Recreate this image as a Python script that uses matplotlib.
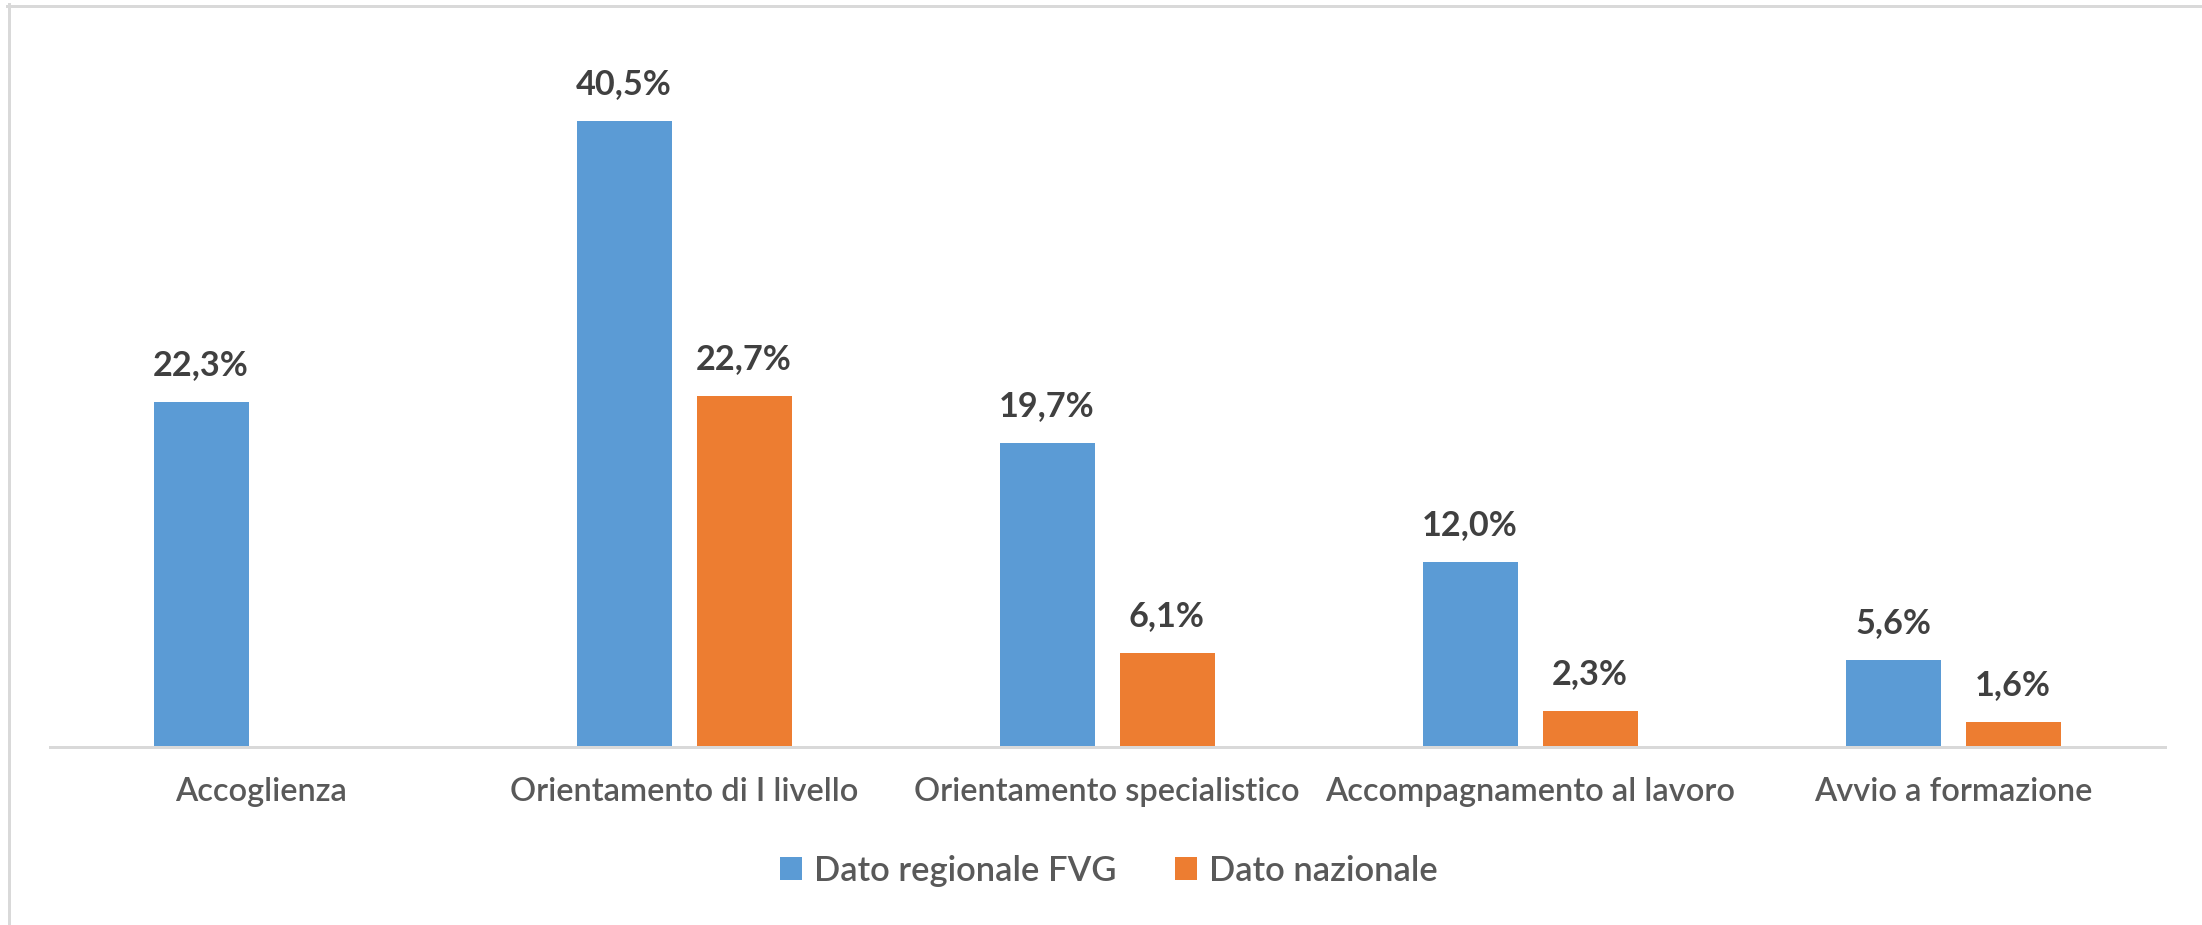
import matplotlib
matplotlib.use("Agg")
import matplotlib.pyplot as plt
from matplotlib.patches import Patch
from matplotlib.lines import Line2D
import numpy as np

categories = ["Accoglienza", "Orientamento di I livello", "Orientamento specialistico",
              "Accompagnamento al lavoro", "Avvio a formazione"]
series_names = ["Dato regionale FVG", "Dato nazionale"]
regional = [22.3, 40.5, 19.7, 12.0, 5.6]
national = [np.nan, 22.7, 6.1, 2.3, 1.6]

BLUE = "#5B9BD5"
ORANGE = "#ED7D31"
FONT = "Lato"
TXT_W = "semibold"

W, H = 2202, 925
fig = plt.figure(figsize=(W / 100, H / 100), dpi=100)
renderer = fig.canvas.get_renderer()


def fit_size(s, target_px, weight="normal"):
    t = fig.text(0, 0, s, fontsize=10, family=FONT, weight=weight)
    w = t.get_window_extent(renderer).width
    t.remove()
    return 10 * target_px / w


tick_fs = fit_size("Accompagnamento al lavoro", 410, TXT_W)
leg_fs = fit_size("Dato regionale FVG", 303, TXT_W)
lab_fs = fit_size("40,5%", 96, "bold")

left, right = 49.5, 2164.5
base = 747
ppu = 15.45
ymax = 45
ax = fig.add_axes([left / W, (H - base) / H, (right - left) / W, ymax * ppu / H])

x = np.arange(len(categories))
bw = 95 / 423
gap = 25 / 423
off = (bw + gap) / 2
b1 = ax.bar(x - off, regional, bw, color=BLUE, label=series_names[0])
b2 = ax.bar(x + off, national, bw, color=ORANGE, label=series_names[1])

for bars, vals in ((b1, regional), (b2, national)):
    for rect, v in zip(bars, vals):
        if np.isnan(v):
            continue
        ax.annotate(f"{v:.1f}%".replace(".", ","),
                    (rect.get_x() + rect.get_width() / 2, v),
                    xytext=(0, 27 * 0.72), textcoords="offset points",
                    ha="center", va="baseline", fontsize=lab_fs,
                    weight="bold", color="#404040", family=FONT)

ax.set_xlim(-0.5, len(categories) - 0.5)
ax.set_ylim(0, ymax)
ax.set_yticks([])
ax.set_xticks(x)
ax.set_xticklabels(categories, fontsize=tick_fs, color="#595959", family=FONT,
                   weight=TXT_W)
for lab in ax.get_xticklabels():
    lab.set_va("center")
ax.tick_params(axis="x", length=0, pad=45 * 0.72)
for s in ("top", "right", "left"):
    ax.spines[s].set_visible(False)
ax.spines["bottom"].set_color("#D9D9D9")
ax.spines["bottom"].set_linewidth(3 * 0.72)
ax.patch.set_alpha(0)

handles = [Patch(facecolor=BLUE, label=series_names[0]),
           Patch(facecolor=ORANGE, label=series_names[1])]
sq = 22 * 0.72
leg = fig.legend(handles=handles, loc="center", bbox_to_anchor=(1109 / W, 1 - 871 / H),
                 ncol=2, frameon=False,
                 prop={"family": FONT, "size": leg_fs, "weight": TXT_W},
                 handlelength=sq / leg_fs, handleheight=sq / leg_fs,
                 handletextpad=12 * 0.72 / leg_fs, columnspacing=58 * 0.72 / leg_fs,
                 borderpad=0, borderaxespad=0)
for t in leg.get_texts():
    t.set_color("#595959")

# outer frame (top and left edges visible in the crop)
lw = 3 * 0.72
fig.add_artist(Line2D([8.5 / W, 8.5 / W], [0, 1 - 4 / H], transform=fig.transFigure,
                      color="#D9D9D9", lw=lw))
fig.add_artist(Line2D([7 / W, 1], [1 - 5.5 / H, 1 - 5.5 / H], transform=fig.transFigure,
                      color="#D9D9D9", lw=lw))

fig.savefig("out.png", dpi=100, facecolor="white")
